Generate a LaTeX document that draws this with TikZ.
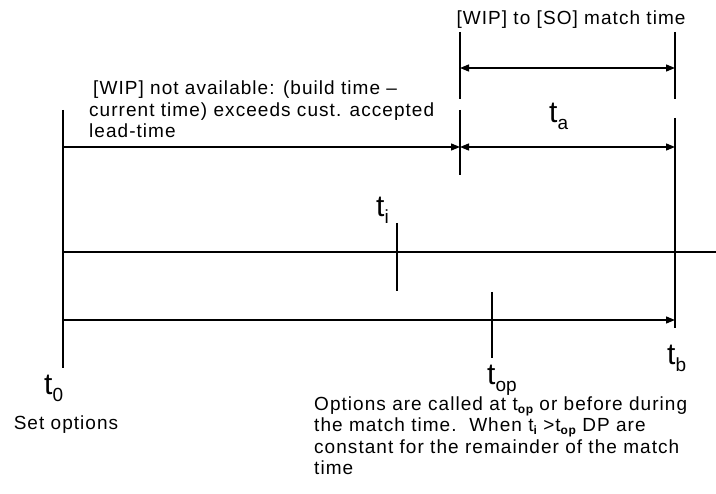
\documentclass[tikz,border=0pt]{standalone}
\usepackage{fontspec}
\setmainfont{Liberation Sans}
\usetikzlibrary{arrows.meta}
\newcommand\timelabel[1]{t\raisebox{-7pt}{\fontsize{19}{19}\selectfont #1}}
\newcommand\smallsub[1]{t\raisebox{-0.3ex}{\fontsize{12}{12}\selectfont\bfseries #1}}
\begin{document}
\begin{tikzpicture}[x=1pt,y=-1pt,
  line/.style={line width=1.3pt},
  arr/.style={line width=1.3pt,-{Triangle[length=9pt,width=7pt]}},
  darr/.style={line width=1.3pt,{Triangle[length=9pt,width=7pt]}-{Triangle[length=9pt,width=7pt]}},
  note/.style={font=\fontsize{19}{21.5}\selectfont\addfontfeature{LetterSpace=5.5},align=left,inner sep=0pt},
  tlab/.style={font=\fontsize{30}{30}\selectfont,inner sep=0pt,anchor=base west}]
\useasboundingbox (0,0) rectangle (716,494);
\fill[white] (0,0) rectangle (716,494);

% reference points
\coordinate (t0top) at (63,110);
\coordinate (t0bot) at (63,368);
\coordinate (axisL) at (63,252);
\coordinate (axisR) at (716,252);
\coordinate (botL) at (63,320);
\coordinate (botR) at (675,320);
\coordinate (tbtop) at (675,118);
\coordinate (tbbot) at (675,328);
\coordinate (mrT) at (675,32);
\coordinate (mrB) at (675,99);
\coordinate (mlT) at (460,32);
\coordinate (mlB) at (460,99);
\coordinate (wipT) at (460,110);
\coordinate (wipB) at (460,175);
\coordinate (upL) at (460,68);
\coordinate (upR) at (675,68);
\coordinate (loL) at (460,147);
\coordinate (loR) at (675,147);
\coordinate (leftL) at (63,147);
\coordinate (tiT) at (397,223);
\coordinate (tiB) at (397,291);
\coordinate (topT) at (492,292);
\coordinate (topB) at (492,358);

% vertical markers
\draw[line] (t0top) -- (t0bot);
\draw[line] (tbtop) -- (tbbot);
\draw[line] (mrT) -- (mrB);
\draw[line] (mlT) -- (mlB);
\draw[line] (wipT) -- (wipB);
\draw[line] (tiT) -- (tiB);
\draw[line] (topT) -- (topB);

% time axis and intervals
\draw[line] (axisL) -- (axisR);
\draw[arr] (botL) -- (botR);
\draw[darr] (upL) -- (upR);
\draw[darr] (loL) -- (loR);
\draw[arr] (leftL) -- (loL);

% labels
\node[note,anchor=center] (matchlbl) at (571,20) {[WIP] to [SO] match time};
\node[note,anchor=north west] (wiplbl) at (89,81) {\hspace{4pt}[WIP] not available: (build time –\\current time) exceeds cust. accepted\\lead-time};
\node[tlab] (ta) at (549,123) {\timelabel{a}};
\node[tlab] (ti) at (376,217) {\timelabel{i}};
\node[tlab] (t0) at (44,395) {\timelabel{0}};
\node[tlab] (top) at (487,385) {\timelabel{op}};
\node[tlab] (tb) at (667,365) {\timelabel{b}};
\node[note,anchor=center] (setopt) at (66,425) {Set options};
\node[note,anchor=north west] (optlbl) at (314,396.5) {Options are called at \smallsub{op} or before during\\the match time.\ \ When \smallsub{i} >\smallsub{op} DP are\\constant for the remainder of the match\\time};
\end{tikzpicture}
\end{document}
